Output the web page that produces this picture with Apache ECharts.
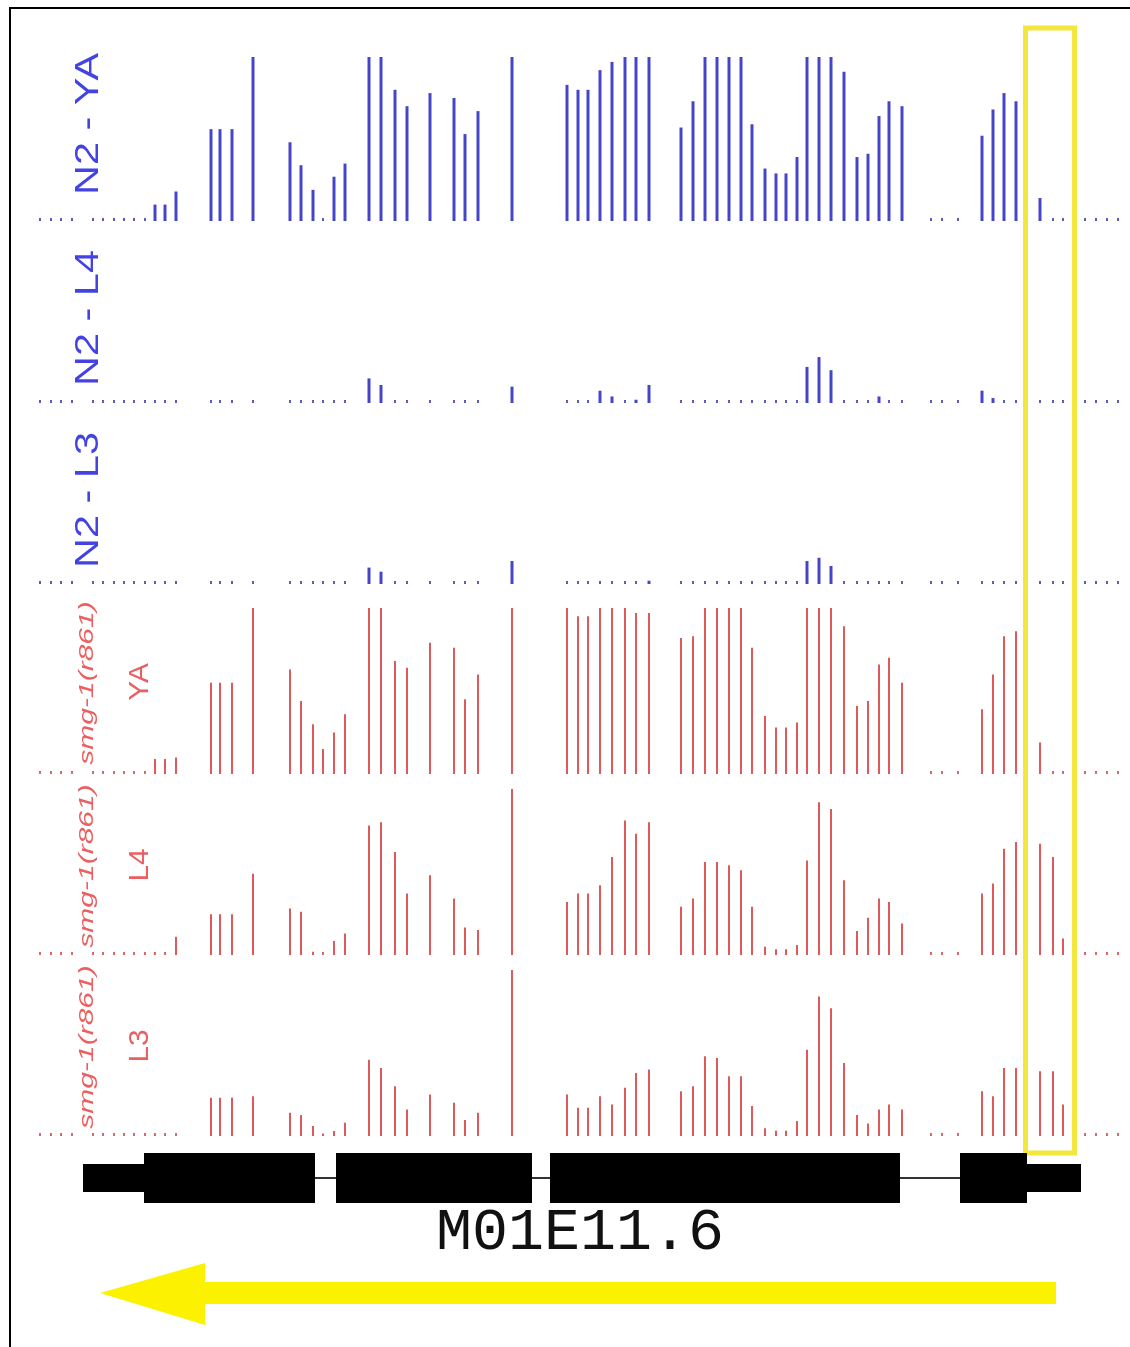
<!DOCTYPE html>
<html><head><meta charset="utf-8">
<script src="https://cdn.jsdelivr.net/npm/echarts@6/dist/echarts.min.js"></script>
<style>html,body{margin:0;padding:0;background:#fff}#c{width:1130px;height:1347px}</style>
</head><body><div id="c"></div><script>
// ---- data: bin positions along the gene window (relative coordinate units) ----
const positions = [40,51,61,72, 93,103,114,124,134,145,155,165,176, 211,220,232,253,
  290,301,313,323,334,345, 369,381,395,407,430,454,465,478, 512,
  567,578,588,600,612,625,636,649,
  681,693,705,717,729,741,752,765,776,786,797,807,819,831,844,857,868,879,889,902,
  931,942,958, 982,993,1004,1016,1040,1053,1063, 1085,1096,1107,1118];

// values in % of track maximum (0 = baseline mark only)
const n2YA = [0,0,0,0, 0,0,0,0,0,0,10,10,18, 56,56,56,100,
  48,34,19,0,27,35, 100,100,80,70,78,75,53,67, 100,
  83,80,80,92,97,100,100,100,
  57,73,100,100,100,100,59,32,29,29,39,100,100,100,91,39,41,64,73,70,
  0,0,0, 52,68,78,73,14,0,0, 0,0,0,0];
const n2L4 = [0,0,0,0, 0,0,0,0,0,0,0,0,0, 0,0,0,0,
  0,0,0,0,0,0, 15,11,0,0,0,0,0,0, 10,
  0,0,0,7.5,4,0,2,11,
  0,0,0,0,0,0,0,0,0,0,0,22,28,20,0,0,0,4,0,0,
  0,0,0, 7.5,3,0,0,0,0,0, 0,0,0,0];
const n2L3 = [0,0,0,0, 0,0,0,0,0,0,0,0,0, 0,0,0,0,
  0,0,0,0,0,0, 10,7.5,0,0,0,0,0,0, 14,
  0,0,0,0,0,0,0,2,
  0,0,0,0,0,0,0,0,0,0,0,14,16,11,0,0,0,0,0,0,
  0,0,0, 0,0,0,0,0,0,0, 0,0,0,0];
const smgYA = [0,0,0,0, 0,0,0,0,0,0,9,9,10, 55,55,55,100,
  63,44,30,15,25,36, 100,100,68,64,79,76,45,60, 100,
  100,95,95,100,100,100,97,97,
  82,83,100,100,100,100,76,35,28,28,31,100,100,100,89,41,44,66,70,55,
  0,0,0, 39,60,83,86,19,0,0, 0,0,0,0];
const smgL4 = [0,0,0,0, 0,0,0,0,0,0,0,0,11, 24.5,24.5,24.5,49,
  28,26,2,0,8.5,13, 78,80,62,37,48,34,16.5,15, 100,
  32,37,37,42,59,81,73,80,
  29,34,56,56,54,51,29,5,3.4,3.4,6,57,92,88,45,14.5,22.5,34,32,19,
  0,0,0, 37,43,64,68,67,59,10, 0,0,0,0];
const smgL3 = [0,0,0,0, 0,0,0,0,0,0,0,0,0, 23,23,23,24,
  14,12.7,6,1.5,3,8, 46,41,30,16,25,20,9.6,14, 100,
  25,17,17,24,19,29,38,40,
  27,30,48,47,36,36,18,4.6,3.2,3.2,9,52,84,77,44,12.7,7.6,16,19,16,
  0,0,0, 27,24,41,41,39,39,19, 0,0,0,0];

const trackNames = ['N2 - YA','N2 - L4','N2 - L3','YA','L4','L3'];
const strainLabel = 'smg-1(r861)';
// gene model: [start, end, kind] kind 0 = intron, 1 = UTR, 2 = coding exon
const geneParts = [[83,1081,0],[83,144,1],[144,315,2],[336,532,2],[550,900,2],[960,1027,2],[1027,1081,1]];
const geneName = 'M01E11.6';
const highlightRegion = [1025.5, 1074.5];

// ---- styles / layout ----
const BLUE = {bar:'#4545c8', dot:'#3434a8', label:'#4343e4', w:3};
const RED = {bar:'#de5a5a', dot:'#d04444', label:'#ea5f5f', w:2};
const trackLayout = [
  {base:221, h:164, st:BLUE},
  {base:403, h:164, st:BLUE},
  {base:584, h:164, st:BLUE},
  {base:774, h:166, st:RED},
  {base:955, h:166, st:RED},
  {base:1136, h:166, st:RED}
];
const trackValues = [n2YA, n2L4, n2L3, smgYA, smgL4, smgL3];

const chart = echarts.init(document.getElementById('c'), null, {renderer:'canvas'});
const grids = [], xAxes = [], yAxes = [], series = [];
trackLayout.forEach((L, i) => {
  grids.push({left:0, width:1130, top:L.base - L.h, height:L.h});
  xAxes.push({type:'value', gridIndex:i, min:0, max:1130, show:false});
  yAxes.push({type:'value', gridIndex:i, min:0, max:100, show:false});
  const vals = trackValues[i];
  const bars = [], dots = [];
  positions.forEach((p, k) => {
    const v = vals[k];
    if (v === null || v === undefined) return;
    if (v > 0) bars.push([p, v]); else dots.push([p, 0]);
  });
  series.push({type:'bar', xAxisIndex:i, yAxisIndex:i, data:bars, barWidth:L.st.w,
    itemStyle:{color:L.st.bar}, silent:true, animation:false});
  series.push({type:'scatter', xAxisIndex:i, yAxisIndex:i, data:dots, symbol:'rect',
    symbolSize:[2,3], symbolOffset:[0,-1.5], itemStyle:{color:L.st.dot}, silent:true, animation:false});
});
// gene grid
const gi = trackLayout.length;
grids.push({left:0, width:1130, top:1153, height:50});
xAxes.push({type:'value', gridIndex:gi, min:0, max:1130, show:false});
yAxes.push({type:'value', gridIndex:gi, min:-1, max:1, show:false});
series.push({type:'custom', xAxisIndex:gi, yAxisIndex:gi, data:geneParts, silent:true, animation:false,
  renderItem:function(params, api){
    const s = api.value(0), e = api.value(1), kind = api.value(2);
    const p1 = api.coord([s, 0]), p2 = api.coord([e, 0]);
    const h = kind === 2 ? 50 : (kind === 1 ? 28 : 2);
    return {type:'rect', shape:{x:p1[0], y:p1[1]-h/2, width:p2[0]-p1[0], height:h},
      style:{fill: kind === 0 ? '#333' : '#000'}};
  }});

chart.setOption({animation:false, grid:grids, xAxis:xAxes, yAxis:yAxes, series:series});

// annotations
const hx0 = chart.convertToPixel({gridIndex:0}, [highlightRegion[0], 0])[0];
const hx1 = chart.convertToPixel({gridIndex:0}, [highlightRegion[1], 0])[0];
const graphics = [];
function vtext(txt, x, y, font, fill, sx){
  graphics.push({type:'text', x:x, y:y, rotation:Math.PI/2, scaleX:sx, silent:true,
    style:{text:txt, font:font, fill:fill, textAlign:'center', textVerticalAlign:'middle', align:'center', verticalAlign:'middle'}});
}
const blueCenters = [124, 318, 500];
blueCenters.forEach((c, i) => vtext(trackNames[i], 89, c, '34px "Liberation Sans", Arial, sans-serif', BLUE.label, 1.22));
const redCenters = [683, 866, 1047];
redCenters.forEach((c, i) => {
  vtext(strainLabel, 87, c, 'italic 20px "Liberation Sans", Arial, sans-serif', RED.label, 1.5);
  vtext(trackNames[3+i], 141, c - 1, '27px "Liberation Sans", Arial, sans-serif', RED.label, 1.1);
});
graphics.push({type:'text', x:580, y:1233, silent:true,
  style:{text:geneName, font:'60px "Liberation Mono", "DejaVu Sans Mono", monospace', fill:'#111',
    textAlign:'center', textVerticalAlign:'middle', align:'center', verticalAlign:'middle'}});
// yellow direction arrow (gene on reverse strand)
graphics.push({type:'polygon', silent:true,
  shape:{points:[[1056,1282],[205,1282],[205,1263],[100,1293],[205,1325],[205,1304],[1056,1304]]},
  style:{fill:'#fcf200'}});
// highlight box
graphics.push({type:'rect', silent:true, shape:{x:hx0, y:28, width:hx1-hx0, height:1125},
  style:{fill:'none', stroke:'#f3e63c', lineWidth:5}});
// frame (left and top edges)
graphics.push({type:'polyline', silent:true, shape:{points:[[10,1347],[10,8],[1130,8]]},
  style:{stroke:'#000', lineWidth:2, fill:'none'}});
chart.setOption({graphic:graphics});
</script></body></html>
